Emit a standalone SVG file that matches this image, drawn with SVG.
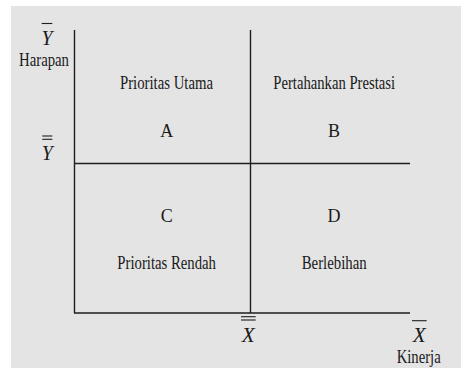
<svg xmlns="http://www.w3.org/2000/svg" width="461" height="369" viewBox="0 0 461 369">
<style>
.t{font-family:"Liberation Serif","Times New Roman",serif;fill:#1a1a1a;font-size:18px}
.v{font-family:"Liberation Serif","Times New Roman",serif;fill:#1a1a1a;font-size:21px;font-style:italic}
.ln{stroke:#1e1e1e;stroke-width:1.4;fill:none}
.bar{stroke:#1e1e1e;stroke-width:1.1;fill:none}
</style>
<rect x="0" y="0" width="461" height="369" fill="#ffffff"/>
<rect x="11" y="6" width="450" height="362" fill="#e4e4e4"/>
<g id="connectors">
<line class="ln" x1="74.5" y1="30" x2="74.5" y2="313"/>
<line class="ln" x1="74" y1="313" x2="410" y2="313"/>
<line class="ln" x1="250.5" y1="30" x2="250.5" y2="313"/>
<line class="ln" x1="74" y1="163.5" x2="410" y2="163.5"/>
</g>
<g id="quadrant-A">
<text class="t" x="120" y="89" textLength="93" lengthAdjust="spacingAndGlyphs">Prioritas Utama</text>
<text class="t" x="166.7" y="136.5" text-anchor="middle" font-size="17">A</text>
</g>
<g id="quadrant-B">
<text class="t" x="273.3" y="89" textLength="121.7" lengthAdjust="spacingAndGlyphs">Pertahankan Prestasi</text>
<text class="t" x="334" y="136.5" text-anchor="middle" font-size="17">B</text>
</g>
<g id="quadrant-C">
<text class="t" x="166.7" y="221.5" text-anchor="middle" font-size="17">C</text>
<text class="t" x="117.3" y="269" textLength="98.7" lengthAdjust="spacingAndGlyphs">Prioritas Rendah</text>
</g>
<g id="quadrant-D">
<text class="t" x="334" y="221.5" text-anchor="middle" font-size="17">D</text>
<text class="t" x="301.7" y="269" textLength="65" lengthAdjust="spacingAndGlyphs">Berlebihan</text>
</g>
<g id="y-axis-label">
<line class="bar" x1="41.7" y1="23.5" x2="52.3" y2="23.5"/>
<text class="v" x="47" y="45" text-anchor="middle" textLength="11" lengthAdjust="spacingAndGlyphs">Y</text>
<text class="t" x="19" y="66" textLength="50" lengthAdjust="spacingAndGlyphs">Harapan</text>
</g>
<g id="y-mean-label">
<line class="bar" x1="42.3" y1="136" x2="52.3" y2="136"/>
<line class="bar" x1="42.3" y1="139.3" x2="52.3" y2="139.3"/>
<text class="v" x="47.3" y="160" text-anchor="middle" textLength="11" lengthAdjust="spacingAndGlyphs">Y</text>
</g>
<g id="x-mean-label">
<line class="bar" x1="241" y1="316.7" x2="255.7" y2="316.7"/>
<line class="bar" x1="241" y1="320" x2="255.7" y2="320"/>
<text class="v" x="248.3" y="342" text-anchor="middle" textLength="13" lengthAdjust="spacingAndGlyphs">X</text>
</g>
<g id="x-axis-label">
<line class="bar" x1="412" y1="320.7" x2="426.7" y2="320.7"/>
<text class="v" x="419.3" y="342" text-anchor="middle" textLength="13" lengthAdjust="spacingAndGlyphs">X</text>
<text class="t" x="396.7" y="363" textLength="44" lengthAdjust="spacingAndGlyphs">Kinerja</text>
</g>
</svg>
